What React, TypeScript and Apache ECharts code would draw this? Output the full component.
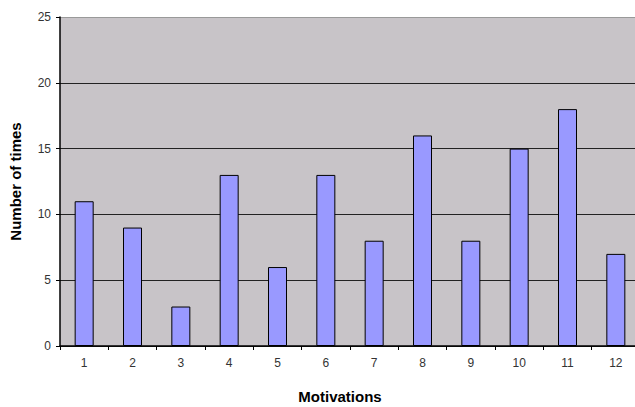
import React, { useEffect, useRef } from "react";
import * as echarts from "echarts";

const categories = ["1", "2", "3", "4", "5", "6", "7", "8", "9", "10", "11", "12"];
const counts = [11, 9, 3, 13, 6, 13, 8, 16, 8, 15, 18, 7];
const yTicks = { min: 0, max: 25, interval: 5 };

export default function App() {
  const ref = useRef<HTMLDivElement>(null);
  useEffect(() => {
    if (!ref.current) return;
    const chart = echarts.init(ref.current, null, { renderer: "svg" });
    chart.setOption({
      animation: false,
      grid: {
        left: 60,
        right: -5,
        top: 17,
        bottom: 61,
        show: true,
        backgroundColor: "#C8C4C8",
        borderWidth: 0,
        containLabel: false,
        outerBoundsMode: "none",
      },
      xAxis: {
        type: "category",
        data: categories,
        name: "Motivations",
        nameLocation: "middle",
        nameGap: 43,
        nameTextStyle: {
          fontFamily: "Liberation Sans, Arial",
          fontWeight: "bold",
          fontSize: 15,
          color: "#000",
          padding: [0, 20, 0, 0],
        },
        axisLine: { lineStyle: { color: "#000", width: 1.5 } },
        axisTick: { show: true, length: 4, lineStyle: { color: "#000" } },
        axisLabel: { fontFamily: "Liberation Sans, Arial", fontSize: 12, color: "#333", margin: 11 },
      },
      yAxis: {
        type: "value",
        min: yTicks.min,
        max: yTicks.max,
        interval: yTicks.interval,
        name: "Number of times",
        nameLocation: "middle",
        nameGap: 37,
        nameTextStyle: { fontFamily: "Liberation Sans, Arial", fontWeight: "bold", fontSize: 15, color: "#000" },
        axisLine: { show: true, lineStyle: { color: "#000", width: 1.5 } },
        axisTick: { show: true, length: 4, lineStyle: { color: "#000" } },
        axisLabel: { fontFamily: "Liberation Sans, Arial", fontSize: 12, color: "#333", margin: 9 },
        splitLine: {
          show: true,
          lineStyle: { color: ["#222", "#222", "#222", "#222", "#222", "#999"], width: 1.2 },
        },
      },
      series: [
        {
          type: "bar",
          data: counts,
          barWidth: 19,
          itemStyle: { color: "#9999FF", borderColor: "#000", borderWidth: 1 },
        },
      ],
    });
    return () => chart.dispose();
  }, []);
  return <div ref={ref} style={{ width: 635, height: 407, position: "absolute", left: 0, top: 0 }} />;
}
